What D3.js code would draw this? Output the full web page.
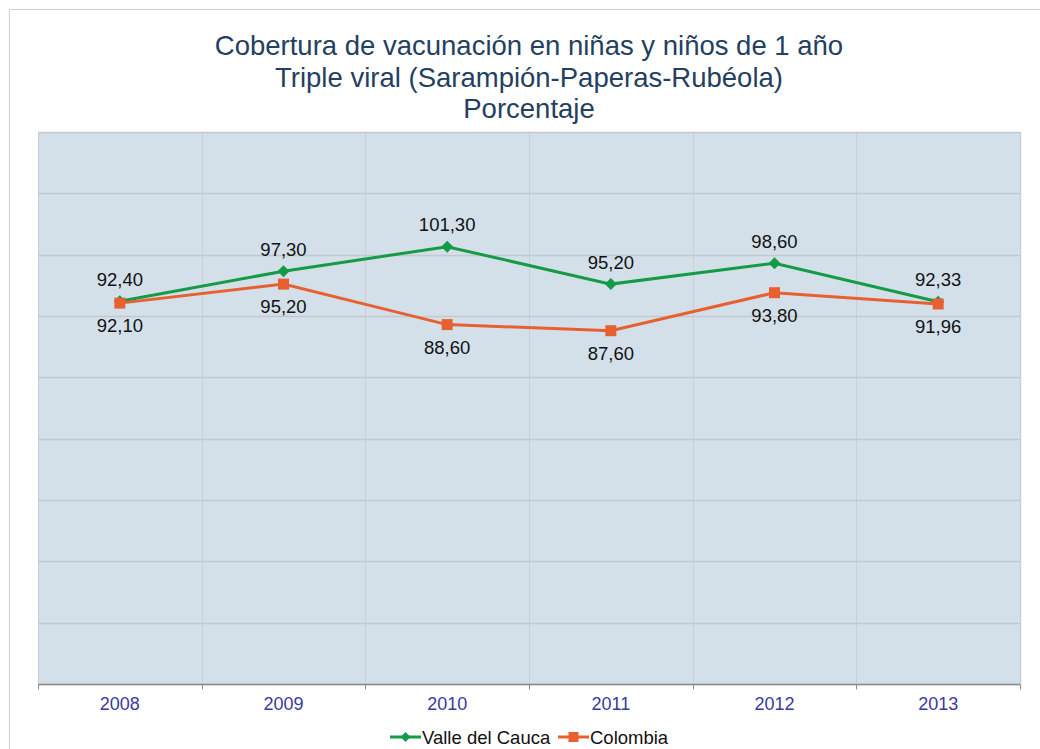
<!DOCTYPE html>
<html>
<head>
<meta charset="utf-8">
<script src="https://cdn.jsdelivr.net/npm/d3@7"></script>
<style>
html,body{margin:0;padding:0;background:#fff;}
svg{display:block;font-family:"Liberation Sans",Arial,sans-serif;}
</style>
</head>
<body>
<svg id="chart" width="1040" height="749"></svg>
<script>
const titleLines = ["Cobertura de vacunación en niñas y niños de 1 año", "Triple viral (Sarampión-Paperas-Rubéola)", "Porcentaje"];
const categories = ["2008", "2009", "2010", "2011", "2012", "2013"];
const valleValues = [92.40, 97.30, 101.30, 95.20, 98.60, 92.33];
const colombiaValues = [92.10, 95.20, 88.60, 87.60, 93.80, 91.96];
const seriesNames = ["Valle del Cauca", "Colombia"];
const yTicks = [30, 40, 50, 60, 70, 80, 90, 100, 110, 120];

const fmt = v => v.toFixed(2).replace(".", ",");
const svg = d3.select("#chart");
const m = {left: 38, right: 1020, top: 132, bottom: 684};
const green = "#159a45", orange = "#e8602f";

// outer frame
svg.append("path").attr("d", "M9.5,749 V9.5 H1040").attr("fill", "none").attr("stroke", "#cfcfcf").attr("stroke-width", 1);

// title
const t = svg.append("text").attr("text-anchor", "middle").attr("fill", "#243f60").attr("font-size", 27.5);
titleLines.forEach((l, i) => t.append("tspan").attr("x", 529).attr("y", 55 + i * 31.5).text(l));

const x = d3.scaleBand().domain(categories).range([m.left, m.right]);
const y = d3.scaleLinear().domain([30, 120]).range([m.bottom, m.top]);

// plot bg
svg.append("rect").attr("x", m.left).attr("y", m.top).attr("width", m.right - m.left).attr("height", m.bottom - m.top).attr("fill", "#d3e0ea");

// vertical gridlines at category boundaries
const bounds = categories.map(c => x(c)).concat([m.right]);
svg.append("g").selectAll("line").data(bounds.slice(1, -1)).join("line")
  .attr("x1", d => Math.round(d) + 0.5).attr("x2", d => Math.round(d) + 0.5)
  .attr("y1", m.top).attr("y2", m.bottom).attr("stroke", "#c9cfd5").attr("stroke-width", 1);

// horizontal gridlines
svg.append("g").selectAll("line").data(yTicks).join("line")
  .attr("x1", m.left).attr("x2", m.right)
  .attr("y1", d => Math.round(y(d)) + 0.5).attr("y2", d => Math.round(y(d)) + 0.5)
  .attr("stroke", "#c4c8cc").attr("stroke-width", 1.5);

// plot left/right border
svg.append("line").attr("x1", m.left + 0.5).attr("x2", m.left + 0.5).attr("y1", m.top).attr("y2", m.bottom).attr("stroke", "#c9ced3");
svg.append("line").attr("x1", m.right + 0.5).attr("x2", m.right + 0.5).attr("y1", m.top).attr("y2", m.bottom + 4).attr("stroke", "#c9ced3").attr("stroke-width", 1.5);

// x axis
const xAxis = svg.append("g").attr("transform", `translate(0,${m.bottom + 0.5})`);
xAxis.append("line").attr("x1", m.left).attr("x2", m.right).attr("stroke", "#8c8c8c").attr("stroke-width", 1.5);
xAxis.selectAll("line.tick").data(bounds).join("line").attr("class", "tick")
  .attr("x1", d => Math.round(d) + 0.5).attr("x2", d => Math.round(d) + 0.5).attr("y1", 0).attr("y2", 5).attr("stroke", "#8c8c8c");
xAxis.selectAll("text").data(categories).join("text")
  .attr("x", d => x(d) + x.bandwidth() / 2).attr("y", 25.5).attr("text-anchor", "middle")
  .attr("font-size", 18).attr("fill", "#3a3a9c").text(d => d);

const cx = c => x(c) + x.bandwidth() / 2;
const line = d3.line().x((d, i) => cx(categories[i])).y(d => y(d));

function diamond(g, px, py, s, col) {
  g.append("path").attr("d", `M${px},${py - s} L${px + s},${py} L${px},${py + s} L${px - s},${py} Z`).attr("fill", col);
}

// Valle
svg.append("path").datum(valleValues).attr("d", line).attr("fill", "none").attr("stroke", green).attr("stroke-width", 3);
const gV = svg.append("g");
valleValues.forEach((v, i) => diamond(gV, cx(categories[i]), y(v), 6, green));

// Colombia
svg.append("path").datum(colombiaValues).attr("d", line).attr("fill", "none").attr("stroke", orange).attr("stroke-width", 3);
svg.append("g").selectAll("rect").data(colombiaValues).join("rect")
  .attr("x", (d, i) => cx(categories[i]) - 5.5).attr("y", d => y(d) - 5.5)
  .attr("width", 11).attr("height", 11).attr("fill", orange);

// labels
svg.append("g").selectAll("text").data(valleValues).join("text")
  .attr("x", (d, i) => cx(categories[i])).attr("y", d => y(d) - 15.5)
  .attr("text-anchor", "middle").attr("font-size", 18.5).attr("fill", "#111").text(d => fmt(d));
svg.append("g").selectAll("text").data(colombiaValues).join("text")
  .attr("x", (d, i) => cx(categories[i])).attr("y", d => y(d) + 29)
  .attr("text-anchor", "middle").attr("font-size", 18.5).attr("fill", "#111").text(d => fmt(d));

// legend
const lg = svg.append("g").attr("transform", "translate(0,737)");
lg.append("line").attr("x1", 390).attr("x2", 421).attr("y1", 0).attr("y2", 0).attr("stroke", green).attr("stroke-width", 3);
diamond(lg, 405.5, 0, 5, green);
lg.append("text").attr("x", 422).attr("y", 6.5).attr("font-size", 18.5).attr("fill", "#111").text(seriesNames[0]);
lg.append("line").attr("x1", 558).attr("x2", 589).attr("y1", 0).attr("y2", 0).attr("stroke", orange).attr("stroke-width", 3);
lg.append("rect").attr("x", 568.5).attr("y", -5).attr("width", 10).attr("height", 10).attr("fill", orange);
lg.append("text").attr("x", 590).attr("y", 6.5).attr("font-size", 18.5).attr("fill", "#111").text(seriesNames[1]);
</script>
</body>
</html>
